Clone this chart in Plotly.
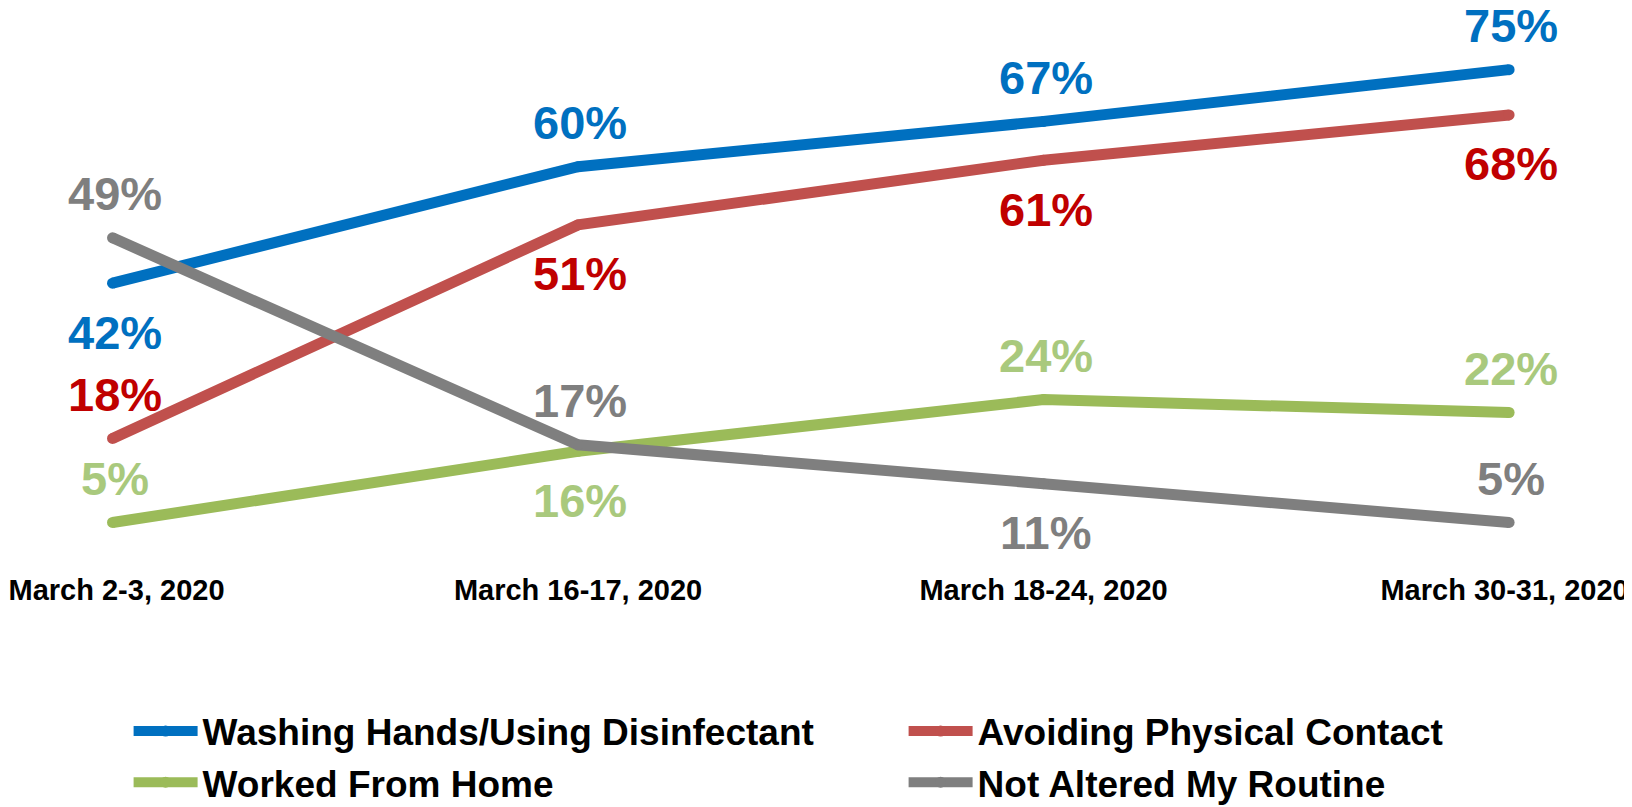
import plotly.graph_objects as go

categories = ["March 2-3, 2020", "March 16-17, 2020", "March 18-24, 2020", "March 30-31, 2020"]
series_names = ["Washing Hands/Using Disinfectant", "Avoiding Physical Contact",
                "Worked From Home", "Not Altered My Routine"]
washing = [42, 60, 67, 75]
avoiding = [18, 51, 61, 68]
worked_home = [5, 16, 24, 22]
not_altered = [49, 17, 11, 5]

line_colors = ["#0070C0", "#C0504D", "#9BBB59", "#7F7F7F"]
label_colors = ["#0070C0", "#C00000", "#A9C97D", "#7F7F7F"]
# label placement: 1 = above the point, -1 = below
placement = [
    [-1, 1, 1, 1],
    [1, -1, -1, -1],
    [1, -1, 1, 1],
    [1, 1, -1, 1],
]
legend_ids = ["legend", "legend2", "legend", "legend2"]

FONT = "Liberation Sans, Arial, sans-serif"
W, H = 1624, 799
PX_PER_UNIT = 466.0
xs = list(range(len(categories)))
values = [washing, avoiding, worked_home, not_altered]

# keep the outer tick labels inside the page, as the original does
tick_pos = list(xs)
tick_pos[0] += 4 / PX_PER_UNIT
tick_pos[-1] -= 4.5 / PX_PER_UNIT

fig = go.Figure()
for i in range(len(values)):
    fig.add_trace(go.Scatter(
        x=xs, y=values[i], name=series_names[i], mode="lines+markers",
        line=dict(color=line_colors[i], width=11),
        marker=dict(color=line_colors[i], size=11),
        legend=legend_ids[i], legendgroup=series_names[i],
        hoverinfo="skip", cliponaxis=False,
    ))

annotations = []
for i, vals in enumerate(values):
    for j, v in enumerate(vals):
        up = placement[i][j] == 1
        annotations.append(dict(
            x=xs[j], y=v, xref="x", yref="y", text=f"{v}%", showarrow=False,
            yshift=44 if up else -49, xshift=2,
            font=dict(family=FONT, size=47, color=label_colors[i], weight="bold"),
        ))

legend_font = dict(family=FONT, size=37, color="black", weight="bold")

fig.update_layout(
    width=W, height=H,
    margin=dict(l=0, r=0, t=0, b=247, autoexpand=False),
    plot_bgcolor="white", paper_bgcolor="white",
    xaxis=dict(type="linear", range=[-0.2245, 3.264], tickvals=tick_pos, ticktext=categories,
               showgrid=False, zeroline=False, showline=False, ticks="",
               tickangle=0, automargin=False, ticklabeloverflow="allow",
               tickfont=dict(family=FONT, size=29, color="black", weight="bold"),
               ticklabelstandoff=10, fixedrange=True),
    yaxis=dict(range=[-0.80, 84.53], visible=False, fixedrange=True, automargin=False),
    annotations=annotations,
    showlegend=True,
    legend=dict(orientation="v", xref="container", yref="container",
                x=120.6 / W, y=1 - 692.5 / H, xanchor="left", yanchor="top",
                font=legend_font, tracegroupgap=16, bgcolor="rgba(0,0,0,0)",
                traceorder="normal", itemwidth=64),
    legend2=dict(orientation="v", xref="container", yref="container",
                 x=895.6 / W, y=1 - 692.5 / H, xanchor="left", yanchor="top",
                 font=legend_font, tracegroupgap=16, bgcolor="rgba(0,0,0,0)",
                 traceorder="normal", itemwidth=64),
)

fig.write_html("out.html")
